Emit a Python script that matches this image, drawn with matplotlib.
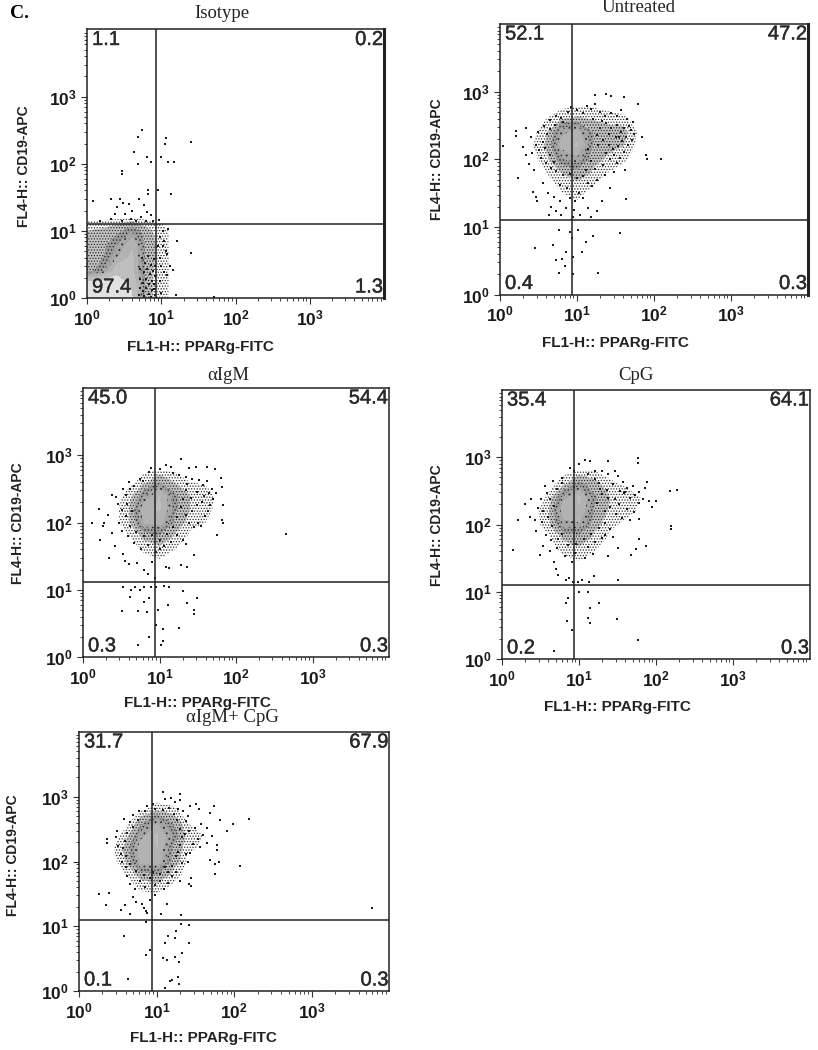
import matplotlib
matplotlib.use("Agg")
import matplotlib.pyplot as plt
import matplotlib.patheffects as pe
from matplotlib.ticker import NullFormatter
import numpy as np

plt.rcParams['font.family'] = ['Liberation Sans', 'DejaVu Sans']
plt.rcParams['mathtext.fontset'] = 'custom'
plt.rcParams['mathtext.rm'] = 'Liberation Sans:bold'
plt.rcParams['mathtext.bf'] = 'Liberation Sans:bold'
plt.rcParams['hatch.color'] = '#2b2b2b'
plt.rcParams['hatch.linewidth'] = 0.6

W, H = 818, 1050

# ---------- values ----------
TITLES = ["Isotype", "Untreated", "\u03b1IgM", "CpG", "\u03b1IgM+ CpG"]
Q_ISO = ["1.1", "0.2", "97.4", "1.3"]
Q_UNT = ["52.1", "47.2", "0.4", "0.3"]
Q_IGM = ["45.0", "54.4", "0.3", "0.3"]
Q_CPG = ["35.4", "64.1", "0.2", "0.3"]
Q_BOTH = ["31.7", "67.9", "0.1", "0.3"]
GATE_X = [8.6, 8.7, 8.7, 8.5, 8.6]
GATE_Y = [12.7, 12.6, 13.0, 12.6, 12.4]
MAJOR = [1, 10, 100, 1000]
MINOR = [2, 3, 4, 5, 6, 7, 8, 9, 20, 30, 40, 50, 60, 70, 80, 90, 200, 300, 400, 500, 600, 700, 800, 900,
         2000, 3000, 4000, 5000, 6000, 7000, 8000, 9000]

ISO_XN = [1, 1.6, 2.5, 4, 6.3, 10, 16]
ISO_YN = [1, 1.6, 2.5, 4, 6.3, 10, 16]
ISO_D = [[5, 5, 5, 4.5, 1.0, .45, .1],
         [5, 5, 5, 4.2, 1.0, .45, .1],
         [1.2, 2, 4, 3.6, 1, .45, .1],
         [1, 1.4, 2.6, 3.6, 1.2, .45, .1],
         [.9, 1.3, 2, 3.2, 1.2, .45, .1],
         [.8, .9, 1.2, 2, 1, .45, .1],
         [.1, .1, .1, .1, .1, .1, 0]]

CELL_XN = [1.6, 2.5, 4, 6.3, 10, 16, 25, 40, 63, 100]
CELL_YN = [25, 40, 63, 100, 160, 250, 400, 630, 1000]
UNT_D = [[0, 0, 0, .2, .3, .1, 0, 0, 0, 0],
         [0, 0, .1, .4, .6, .3, .1, 0, 0, 0],
         [0, 0, .3, .8, 1.2, .7, .3, .1, 0, 0],
         [0, .1, .6, 2, 2.5, 1, .7, .4, 0, 0],
         [0, .2, .9, 3, 3.5, 1.5, 1, .8, .1, 0],
         [0, .1, .7, 2.5, 3, 1.5, 1.1, 1, .2, 0],
         [0, 0, .3, .7, .9, .7, .5, .4, 0, 0],
         [0, 0, 0, .1, .2, .2, .1, 0, 0, 0],
         [0, 0, 0, 0, 0, 0, 0, 0, 0, 0]]
IGM_D = [[0, 0, 0, .1, .2, 0, 0, 0, 0, 0],
         [0, 0, .1, .4, .6, .3, .1, 0, 0, 0],
         [0, 0, .3, 1, 1.4, .7, .2, 0, 0, 0],
         [0, .1, .7, 2.8, 3, 1.2, .5, .3, 0, 0],
         [0, .1, .8, 3.2, 3.5, 1.6, .8, .5, 0, 0],
         [0, .1, .5, 2, 3.4, 1.6, .8, .6, 0, 0],
         [0, 0, .1, .6, 1.4, .7, .3, .2, 0, 0],
         [0, 0, 0, .1, .2, .1, .1, 0, 0, 0],
         [0, 0, 0, 0, 0, 0, 0, 0, 0, 0]]
CPG_D = [[0, 0, 0, .1, .2, .1, 0, 0, 0, 0],
         [0, 0, .1, .4, .6, .3, .1, 0, 0, 0],
         [0, 0, .2, .9, 1.2, .6, .2, .1, 0, 0],
         [0, .1, .6, 2.4, 2.6, 1, .4, .2, .1, 0],
         [0, .1, .7, 3.2, 3.3, 1.3, .7, .5, .2, 0],
         [0, 0, .4, 2.4, 3.5, 1.6, .8, .6, .3, 0],
         [0, 0, .1, .6, 1.7, 1, .4, .2, .1, 0],
         [0, 0, 0, .1, .3, .3, .1, 0, 0, 0],
         [0, 0, 0, 0, 0, 0, 0, 0, 0, 0]]
BOTH_D = [[0, 0, 0, .1, .1, 0, 0, 0, 0, 0],
          [0, 0, .1, .4, .5, .2, 0, 0, 0, 0],
          [0, 0, .3, 1.1, 1.5, .6, .1, 0, 0, 0],
          [0, 0, .8, 3, 3.2, 1.2, .2, .1, 0, 0],
          [0, .1, 1, 3.2, 3.4, 1.4, .4, .2, 0, 0],
          [0, .1, .5, 2.4, 3.5, 2, .5, .3, 0, 0],
          [0, 0, .1, 1.2, 2.6, 1.4, .3, .2, 0, 0],
          [0, 0, 0, .2, .6, .4, .1, .1, 0, 0],
          [0, 0, 0, 0, 0, 0, 0, 0, 0, 0]]

ISO_PTS = [(5.5, 320), (4.9, 250), (4.3, 150), (6.5, 125), (7.2, 105), (4.8, 98), (3, 78), (3, 70),
           (11.5, 245), (11.3, 200), (25, 210), (10, 128), (12.2, 105), (15, 108), (6.7, 40), (6.7, 36),
           (9, 40), (13.5, 36), (5, 30), (3.1, 26), (2.8, 30), (2.1, 30), (1.2, 28), (3.7, 25), (5.9, 24),
           (2.5, 23), (4.0, 20), (6.5, 19), (3.3, 18), (2.4, 18), (7.2, 17), (5.3, 16), (1.5, 14), (2.1, 15),
           (3.9, 15), (3.0, 14), (4.6, 14), (6.2, 14), (7.8, 14), (9.2, 14.5), (10.5, 10), (12.5, 10.5),
           (16.5, 7), (25, 4.7), (14.5, 2.6), (16, 1.1), (52, 1.05), (11, 7), (11.5, 5), (12, 4.5), (13, 3),
           (10, 3), (11, 2.4), (12, 2.2), (9.5, 1.8), (10, 1.2), (9, 6), (9.5, 4), (9.6, 8), (10.4, 6),
           (5.5, 4), (6, 3.3), (6.6, 4.2), (7.2, 3.1), (7.9, 3.8), (8.3, 3), (5.2, 2.7), (5.8, 2.4),
           (6.4, 2.7), (7, 2.3), (7.7, 2.5), (8.2, 2.1), (5.2, 1.9), (5.7, 1.7), (6.3, 1.9), (6.9, 1.6),
           (7.6, 1.8), (8.1, 1.6), (5.1, 1.4), (5.6, 1.25), (6.2, 1.4), (6.8, 1.15), (7.5, 1.3), (8.2, 1.1),
           (5, 1.1), (5.9, 1.06), (7.2, 1.05), (8, 1.35)]

UNT_PTS = [(1.1, 155), (1.6, 260), (1.6, 220), (1.7, 52), (2.2, 290), (2.85, 4.9), (4.9, 5.4), (5.4, 3.2),
           (5.9, 2.1), (6.3, 3.4), (7, 2.6), (7.3, 4.2), (5.9, 9), (8, 8.5), (8.5, 6.8), (10.4, 9), (13, 6),
           (16, 7.3), (36, 8), (11.5, 4.2), (19, 2.1), (8.9, 2), (8.9, 3.6), (122, 102), (80, 101), (78, 115),
           (70, 215), (62, 665), (41, 830), (28, 870), (24, 920), (17, 880), (43, 26), (54, 350), (55, 235),
           (2.7, 33), (2.9, 28), (3, 24), (4.2, 32), (5, 28), (6.1, 24), (4.6, 20), (5.4, 17), (4.3, 15), (6.2, 15),
           (7.2, 19), (8, 27), (9.5, 24), (9.2, 18), (10.5, 32), (12, 27), (11, 15), (14, 19), (15, 14), (18, 17),
           (21, 24), (27, 37), (15.5, 40), (8.9, 14), (7.5, 38), (6, 42), (3.6, 44), (2.8, 70), (2.4, 85), (2.2, 115),
           (2.6, 125), (2.0, 150), (2.9, 165), (2.5, 210), (3.1, 255), (3.7, 310), (4.4, 380), (5.3, 440), (6.5, 360),
           (7.6, 505), (8.4, 600), (10, 540), (12, 480), (13.5, 620), (15, 560), (17, 660), (20, 500), (23, 430),
           (28, 480), (33, 430), (37, 540), (45, 390), (47, 310), (50, 270), (52, 190), (46, 165), (41, 130), (36, 105),
           (33, 88), (42, 70), (30, 64), (23, 58), (18, 50), (14, 45), (17, 72), (22, 82), (27, 100), (24, 125),
           (29, 140), (34, 155), (38, 185), (43, 210), (32, 215), (37, 255), (28, 290), (33, 320), (41, 285), (24, 340),
           (21, 370), (26, 240), (22, 195), (19, 160), (18, 225), (20, 290), (16, 390), (14, 140), (15, 95), (13, 70),
           (12, 57), (10, 52), (8, 60), (6.5, 58), (5.4, 68), (4.6, 75), (3.9, 88), (3.4, 105), (3.2, 135), (3.6, 180),
           (4.1, 240), (3.8, 145), (4.4, 115), (5, 92), (5.2, 320), (6.2, 410), (4.5, 280), (30, 115), (35, 210), (26, 165)]

IGM_PTS = [(1.3, 97), (1.6, 160), (1.65, 54), (2.2, 30), (1.9, 100), (1.8, 88), (2.1, 130), (2.4, 70), (2.6, 45),
           (3.3, 34), (3.5, 27), (4, 24), (5.1, 25), (6.2, 20), (7, 17), (7.9, 26), (8.8, 15), (10, 40), (12.2, 22), (13.5, 21),
           (19, 23), (23, 22), (28, 33), (22.5, 48), (3.3, 11), (4.2, 10), (4.8, 11), (5.5, 10), (4.1, 7.8), (6.2, 11),
           (7.7, 11), (9.1, 11), (11.5, 11.5), (13.5, 11), (20, 9.5), (7.2, 7.5), (6.2, 6.5), (3.2, 4.9), (5.2, 4.9),
           (6.9, 4.6), (9.7, 5), (13, 5.9), (23, 6.4), (28, 5), (28, 4.4), (31, 7.5), (9, 3), (11, 2.6), (18, 2.7), (7.4, 2),
           (5.2, 1.5), (11, 1.75), (10.6, 1.5), (450, 67), (56, 66), (66, 110), (67, 97), (68, 180), (65, 340), (63, 460),
           (53, 630), (42, 670), (30, 680), (24, 650), (19, 890), (14, 680), (12, 710), (10, 620), (7.8, 640), (7.3, 570),
           (5.5, 450), (4, 400), (3.3, 320), (2.4, 260), (2.7, 240), (2.9, 190), (3.2, 155), (3.6, 260), (4.1, 310),
           (4.7, 350), (6.1, 420), (15, 540), (18, 500), (22, 480), (27, 440), (33, 430), (37, 355), (42, 410), (48, 320),
           (54, 270), (50, 220), (46, 180), (43, 150), (39, 125), (32, 100), (28, 85), (35, 88), (24, 100), (22, 130), (27, 150),
           (31, 180), (36, 205), (26, 230), (31, 285), (22, 300), (20, 220), (19, 170), (17, 120), (15, 85), (17, 65), (20, 55),
           (14, 52), (11.5, 44), (9, 36), (7, 46), (5.8, 41), (4.7, 50), (3.9, 62), (3.2, 74), (3, 100), (3.6, 125), (4.1, 90),
           (5, 72), (6.2, 62), (8, 65), (10, 55), (12.5, 68), (4.4, 150), (3.8, 190), (38, 250), (45, 270), (23, 380)]

CPG_PTS = [(1.4, 42), (1.6, 118), (2, 205), (2.4, 240), (2.3, 130), (2.7, 115), (2.9, 175), (2.8, 80), (3.1, 35), (3.4, 48),
           (4.2, 40), (4.8, 28), (5, 22), (5.4, 18), (6.7, 15), (7.5, 16), (8.4, 14), (9.7, 14), (11, 15), (13.5, 14), (15.5, 17),
           (32, 15), (24, 34), (32, 44), (48, 35), (55, 43), (74, 48), (60, 60), (28, 65), (22, 70), (155, 85), (155, 95),
           (185, 330), (150, 310), (100, 220), (90, 180), (76, 430), (72, 350), (60, 300), (58, 960), (58, 830), (40, 300),
           (24, 870), (14, 890), (12, 900), (10, 800), (8.5, 620), (7.6, 700), (6, 490), (4.6, 450), (3.6, 380), (3.8, 290),
           (3.2, 240), (3.4, 160), (9.9, 10), (13, 10), (7.3, 8), (6.8, 6.7), (14, 5.8), (18, 6.8), (13, 4.1), (13.8, 3.4),
           (31, 4), (7, 3.7), (8.2, 2.7), (58, 1.9), (4.7, 1.3), (20, 620), (24, 560), (29, 630), (32, 520), (37, 430), (42, 350),
           (50, 380), (54, 270), (46, 250), (38, 290), (33, 200), (29, 240), (25, 180), (22, 160), (20, 280), (23, 330), (18, 420),
           (16, 620), (28, 400), (34, 320), (61, 210), (68, 240), (80, 225), (42, 170), (52, 155), (60, 120), (46, 115), (36, 125),
           (30, 145), (22, 105), (18, 90), (25, 85), (20, 62), (16, 55), (13, 46), (15, 36), (12, 32), (9, 38), (8, 28), (6.5, 34),
           (5.2, 45), (4.3, 58), (3.7, 70), (3.3, 110), (3.9, 130), (4.4, 95), (5.4, 60), (6.1, 72), (7.3, 50), (9.2, 52), (11.5, 60),
           (14.5, 72), (4.8, 190), (4.2, 240), (5.2, 340), (6.1, 420), (13, 560), (16, 470), (19, 340), (17, 210), (24, 250)]

BOTH_PTS = [(1.8, 31), (2.2, 21), (2.4, 33), (3.5, 18), (3.9, 21), (4.5, 15.5), (4.9, 28), (5.5, 24), (6.5, 22), (6.9, 19), (7.3, 17),
            (7.5, 16), (8.1, 25), (9.5, 30), (11.5, 15.5), (13.5, 22), (20.5, 15), (7.2, 11.5), (20.5, 11), (26, 10.3), (18, 8.3), (3.8, 7),
            (14, 7), (17, 6.5), (13, 5.5), (26, 5.5), (8.1, 4.3), (7.2, 3.6), (17, 3.4), (21, 3.9), (12.2, 3.2), (13.5, 3), (19.5, 2.8),
            (4.3, 1.55), (16, 1.5), (14.7, 1.45), (19, 1.65), (19.5, 1.3), (13, 1.1), (6000, 19), (155, 450), (120, 85), (95, 385),
            (80, 300), (66, 440), (55, 730), (48, 560), (32, 770), (27, 720), (35, 640), (56, 65), (56, 90), (64, 100), (48, 105),
            (28, 55), (26, 45), (28, 42), (20, 50), (20, 880), (20, 1100), (15.5, 960), (12, 1200), (13, 930), (9, 780), (7.5, 730),
            (17, 820), (6, 600), (5, 520), (4.5, 410), (3.8, 460), (3.1, 300), (2.3, 220), (2.3, 195), (3, 240), (3.2, 175), (3.5, 130),
            (3.6, 100), (4, 82), (4.2, 60), (4.5, 45), (5.2, 38), (6.1, 50), (7.1, 40), (8.3, 55), (9.6, 44), (11.2, 50), (12.6, 38),
            (14, 46), (16, 60), (18, 70), (21, 95), (24, 130), (29, 185), (34, 220), (39, 260), (44, 330), (52, 250), (60, 180), (36, 165),
            (27, 135), (25, 100), (23, 265), (26, 300), (31, 330), (37, 380), (25, 500), (22, 600), (19, 650), (24, 420), (20, 180), (18, 120),
            (16, 85), (14, 68), (11, 65), (8.9, 68), (6.8, 62), (5.4, 72), (4.6, 92), (4, 120), (3.7, 160), (3.9, 210), (4.2, 280), (5, 340), (5.7, 430),
            (7, 600), (9.5, 640), (12, 620), (14.5, 680), (16.5, 540), (18.5, 440), (20, 320), (21, 240), (19, 140), (13, 82), (60, 150), (45, 190)]

# ---------- layout (pixels: left, right, top, bottom) ----------
BOXES = [(87, 384, 29.5, 298), (500, 808, 24, 294.5), (83, 389, 388, 657),
         (502, 810, 390, 659), (79, 389.5, 732, 991)]
TITLE_XY = [(222, 14), (639, 8), (228, 375), (636, 375), (232, 717)]
XLAB_XY = [(200, 347), (615, 343), (197, 703), (617, 707), (203, 1038)]
YLAB_XY = [(24, 166), (437, 159), (18, 523), (437, 525), (13, 855)]
QUADS = [Q_ISO, Q_UNT, Q_IGM, Q_CPG, Q_BOTH]
GRIDS = [(ISO_XN, ISO_YN, ISO_D), (CELL_XN, CELL_YN, UNT_D), (CELL_XN, CELL_YN, IGM_D),
         (CELL_XN, CELL_YN, CPG_D), (CELL_XN, CELL_YN, BOTH_D)]
POINTS = [ISO_PTS, UNT_PTS, IGM_PTS, CPG_PTS, BOTH_PTS]
THICK_RIGHT = [True, True, False, False, False]

LEVELS = [0.3, 0.8, 1.5, 2.1, 2.7, 3.4, 4.4, 6]
FILLS = ["#ffffff", "#c4c4c4", "#9c9c9c", "#a6a6a6", "#b2b2b2", "#bebebe", "#e2e2e2"]
HATCHES = ["......", "......", ".....", "...", "", "", ""]

fig = plt.figure(figsize=(W / 100, H / 100), dpi=100, facecolor="white")


def fx(px):
    return px / W


def fy(py):
    return 1 - py / H


INK = "#222222"
for i in range(5):
    l, r, t, b = BOXES[i]
    ax = fig.add_axes([fx(l), fy(b), (r - l) / W, (b - t) / H])
    ax.set_xscale("log")
    ax.set_yscale("log")

    xn, yn, d = GRIDS[i]
    ax.contourf(xn, yn, np.array(d, dtype=float), levels=LEVELS, colors=FILLS, hatches=HATCHES, zorder=1)
    px = [p[0] for p in POINTS[i]]
    py = [p[1] for p in POINTS[i]]
    ax.scatter(px, py, s=2.0, c="#1a1a1a", marker="s", linewidths=0, zorder=2)

    ax.set_xlim(1, 10000)
    ax.set_ylim(1, 10000)
    ax.axvline(GATE_X[i], color=INK, lw=1.1, zorder=3)
    ax.axhline(GATE_Y[i], color=INK, lw=1.1, zorder=3)

    for s in ax.spines.values():
        s.set_linewidth(1.1)
        s.set_color(INK)
    if THICK_RIGHT[i]:
        ax.spines["right"].set_linewidth(2.2)

    ax.set_xticks(MAJOR)
    ax.set_yticks(MAJOR)
    ax.set_xticks(MINOR, minor=True)
    ax.set_yticks(MINOR, minor=True)
    ax.set_xticklabels([r"$\mathbf{10^{%d}}$" % k for k in range(4)])
    ax.set_yticklabels([r"$\mathbf{10^{%d}}$" % k for k in range(4)])
    ax.xaxis.set_minor_formatter(NullFormatter())
    ax.yaxis.set_minor_formatter(NullFormatter())
    ax.tick_params(axis="both", which="major", length=4.5, width=0.8, color="#333333",
                   labelsize=12.5, labelcolor="#1a1a1a", pad=3)
    ax.tick_params(axis="both", which="minor", length=2.5, width=0.7, color="#444444")

    q = QUADS[i]
    qkw = dict(fontsize=14.5, color="#2a2a2a", zorder=5,
               path_effects=[pe.withStroke(linewidth=0.3, foreground="#2a2a2a")])
    ax.annotate(q[0], (0, 1), xycoords="axes fraction", xytext=(5, -10), textcoords="offset pixels",
                ha="left", va="center", **qkw)
    ax.annotate(q[1], (1, 1), xycoords="axes fraction", xytext=(-1, -10), textcoords="offset pixels",
                ha="right", va="center", **qkw)
    ax.annotate(q[2], (0, 0), xycoords="axes fraction", xytext=(5, 11), textcoords="offset pixels",
                ha="left", va="center", **qkw)
    ax.annotate(q[3], (1, 0), xycoords="axes fraction", xytext=(-1, 11), textcoords="offset pixels",
                ha="right", va="center", **qkw)

    tx, ty = TITLE_XY[i]
    fig.text(fx(tx), fy(ty), TITLES[i], family="Liberation Serif", fontsize=13.5, ha="center", va="center",
             color="#222222")
    lx, ly = XLAB_XY[i]
    fig.text(fx(lx), fy(ly), "FL1-H:: PPARg-FITC", fontsize=11, fontweight="bold", ha="center", va="center",
             color="#222222")
    yx, yy = YLAB_XY[i]
    fig.text(fx(yx), fy(yy), "FL4-H:: CD19-APC", fontsize=10, fontweight="bold", ha="center", va="center",
             rotation=90, color="#222222")

fig.text(fx(10), fy(14), "C.", family="Liberation Serif", fontsize=14, fontweight="bold", ha="left", va="center")

fig.savefig("out.png", dpi=100)
